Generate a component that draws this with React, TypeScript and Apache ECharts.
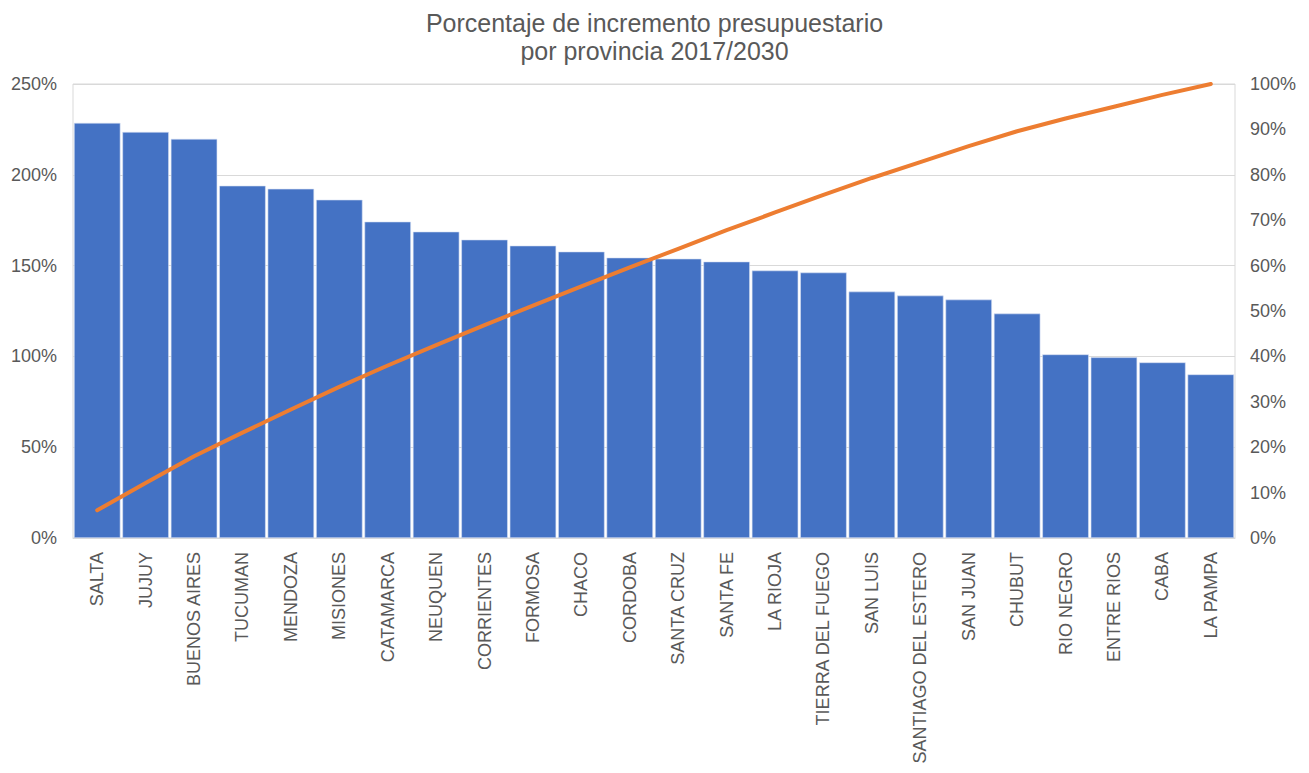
import React, { useEffect, useRef } from "react";
import * as echarts from "echarts";

const provinces = [
  "SALTA", "JUJUY", "BUENOS AIRES", "TUCUMAN", "MENDOZA", "MISIONES", "CATAMARCA", "NEUQUEN",
  "CORRIENTES", "FORMOSA", "CHACO", "CORDOBA", "SANTA CRUZ", "SANTA FE", "LA RIOJA",
  "TIERRA DEL FUEGO", "SAN LUIS", "SANTIAGO DEL ESTERO", "SAN JUAN", "CHUBUT", "RIO NEGRO",
  "ENTRE RIOS", "CABA", "LA PAMPA",
];

const increments = [
  228.6, 223.6, 219.8, 194.0, 192.3, 186.3, 174.2, 168.7, 164.3, 161.0, 157.7, 154.4,
  153.8, 152.2, 147.3, 146.2, 135.7, 133.5, 131.3, 123.6, 101.1, 99.5, 96.7, 90.1,
];

const cumulative = [
  6.1, 12.1, 18.0, 23.2, 28.3, 33.3, 38.0, 42.5, 46.9, 51.2, 55.4, 59.6,
  63.7, 67.8, 71.7, 75.6, 79.3, 82.8, 86.3, 89.6, 92.4, 95.0, 97.6, 100.0,
];

const titleLines = ["Porcentaje de incremento presupuestario", "por provincia 2017/2030"];

export default function App() {
  const ref = useRef<HTMLDivElement>(null);
  useEffect(() => {
    if (!ref.current) return;
    const chart = echarts.init(ref.current, null, { renderer: "svg" });
    const font = "'Liberation Sans', Arial, sans-serif";
    chart.setOption({
      animation: false,
      backgroundColor: "#ffffff",
      textStyle: { fontFamily: font },
      title: {
        text: titleLines.join("\n"),
        left: "center",
        top: 9,
        padding: 0,
        textStyle: { fontFamily: font, fontSize: 25, fontWeight: "normal", color: "#595959", lineHeight: 28 },
      },
      grid: {
        left: 73,
        right: 74,
        top: 84,
        bottom: 235,
        show: true,
        borderColor: "#d9d9d9",
        borderWidth: 1,
        containLabel: false,
      },
      xAxis: {
        type: "category",
        data: provinces,
        axisTick: { show: false },
        axisLine: { show: true, lineStyle: { color: "#d9d9d9", width: 1 } },
        axisLabel: {
          rotate: 90,
          interval: 0,
          margin: 14,
          color: "#595959",
          fontSize: 18,
          fontFamily: font,
        },
      },
      yAxis: [
        {
          type: "value",
          min: 0,
          max: 250,
          interval: 50,
          axisLine: { show: false },
          axisTick: { show: false },
          splitLine: { show: true, lineStyle: { color: "#d9d9d9", width: 1 } },
          axisLabel: { formatter: "{value}%", color: "#595959", fontSize: 18, margin: 16, fontFamily: font },
        },
        {
          type: "value",
          min: 0,
          max: 100,
          interval: 10,
          position: "right",
          axisLine: { show: false },
          axisTick: { show: false },
          splitLine: { show: false },
          axisLabel: { formatter: "{value}%", color: "#595959", fontSize: 18, margin: 15, fontFamily: font },
        },
      ],
      series: [
        {
          type: "bar",
          data: increments,
          yAxisIndex: 0,
          barCategoryGap: "4%",
          itemStyle: { color: "#4472C4", borderColor: "#d6e0f3", borderWidth: 0.6 },
        },
        {
          type: "line",
          data: cumulative,
          yAxisIndex: 1,
          symbol: "none",
          lineStyle: { color: "#ED7D31", width: 4, cap: "round" },
          z: 5,
        },
      ],
    });
    return () => chart.dispose();
  }, []);
  return (
    <div
      ref={ref}
      style={{ position: "fixed", left: 0, top: 0, width: 1309, height: 773 }}
    />
  );
}
